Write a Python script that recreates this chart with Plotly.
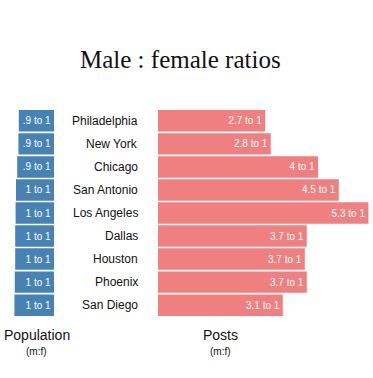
import plotly.graph_objects as go

cities = ["Philadelphia", "New York", "Chicago", "San Antonio", "Los Angeles",
          "Dallas", "Houston", "Phoenix", "San Diego"]
population_ratio = [0.88, 0.89, 0.92, 0.95, 0.96, 0.97, 0.97, 0.98, 0.99]
population_labels = [".9 to 1", ".9 to 1", ".9 to 1", "1 to 1", "1 to 1",
                     "1 to 1", "1 to 1", "1 to 1", "1 to 1"]
posts_ratio = [2.68, 2.82, 4.0, 4.52, 5.26, 3.72, 3.67, 3.72, 3.12]
posts_labels = ["2.7 to 1", "2.8 to 1", "4 to 1", "4.5 to 1", "5.3 to 1",
                "3.7 to 1", "3.7 to 1", "3.7 to 1", "3.1 to 1"]

W, H = 373, 378
SANS = "Liberation Sans, Arial, Helvetica, sans-serif"
BLUE = "#4682B4"
PINK = "#F08080"

def px_x(x):
    return x / W

def px_y(y):
    return (H - y) / H

fig = go.Figure()

fig.add_trace(go.Bar(
    y=cities, x=population_ratio, orientation="h",
    xaxis="x", yaxis="y",
    marker=dict(color=BLUE, line=dict(width=0)),
    text=population_labels, textposition="inside", insidetextanchor="start",
    textangle=0, textfont=dict(family=SANS, size=10, color="white"),
    hoverinfo="skip", cliponaxis=False,
))

fig.add_trace(go.Bar(
    y=cities, x=posts_ratio, orientation="h",
    xaxis="x2", yaxis="y2",
    marker=dict(color=PINK, line=dict(width=0)),
    text=posts_labels, textposition="inside", insidetextanchor="end",
    textangle=0, textfont=dict(family=SANS, size=10, color="white"),
    hoverinfo="skip", cliponaxis=False,
))

ydom = [px_y(316.7), px_y(109.3)]
scale = 40.0  # px per unit

axis_common = dict(showgrid=False, zeroline=False, showticklabels=False,
                   showline=False, ticks="", fixedrange=True)

fig.update_layout(
    width=W, height=H,
    margin=dict(l=0, r=0, t=0, b=0),
    paper_bgcolor="white", plot_bgcolor="white",
    showlegend=False,
    bargap=0.07,
    uniformtext=dict(minsize=10, mode="show"),
    xaxis=dict(domain=[0, px_x(54)], range=[54 / scale, 0], anchor="y", **axis_common),
    xaxis2=dict(domain=[px_x(158), 1], range=[0, (W - 158) / scale], anchor="y2", **axis_common),
    yaxis=dict(domain=ydom, categoryorder="array", categoryarray=cities,
               autorange="reversed", anchor="x", **axis_common),
    yaxis2=dict(domain=ydom, categoryorder="array", categoryarray=cities,
                autorange="reversed", anchor="x2", **axis_common),
)

annotations = []
for c in cities:
    annotations.append(dict(
        x=px_x(139.5), xref="paper", y=c, yref="y",
        text=c, showarrow=False, xanchor="right", yanchor="middle",
        font=dict(family=SANS, size=12, color="#111111"),
    ))

annotations.append(dict(
    x=px_x(180), y=px_y(59.5), xref="paper", yref="paper",
    text="Male : female ratios", showarrow=False,
    xanchor="center", yanchor="middle",
    font=dict(family="Liberation Serif, Times New Roman, serif", size=25, color="#111111"),
))

for label, cx in [("Population", 36.7), ("Posts", 220.7)]:
    annotations.append(dict(
        x=px_x(cx), y=px_y(335), xref="paper", yref="paper",
        text=label, showarrow=False, xanchor="center", yanchor="middle",
        font=dict(family=SANS, size=14, color="#111111"),
    ))
    annotations.append(dict(
        x=px_x(cx), y=px_y(351.7), xref="paper", yref="paper",
        text="(m:f)", showarrow=False, xanchor="center", yanchor="middle",
        font=dict(family=SANS, size=10, color="#111111"),
    ))

fig.update_layout(annotations=annotations)

fig.write_html("out.html", config={"displayModeBar": False},
               post_script="document.body.style.margin='0';document.body.style.overflow='hidden';")
